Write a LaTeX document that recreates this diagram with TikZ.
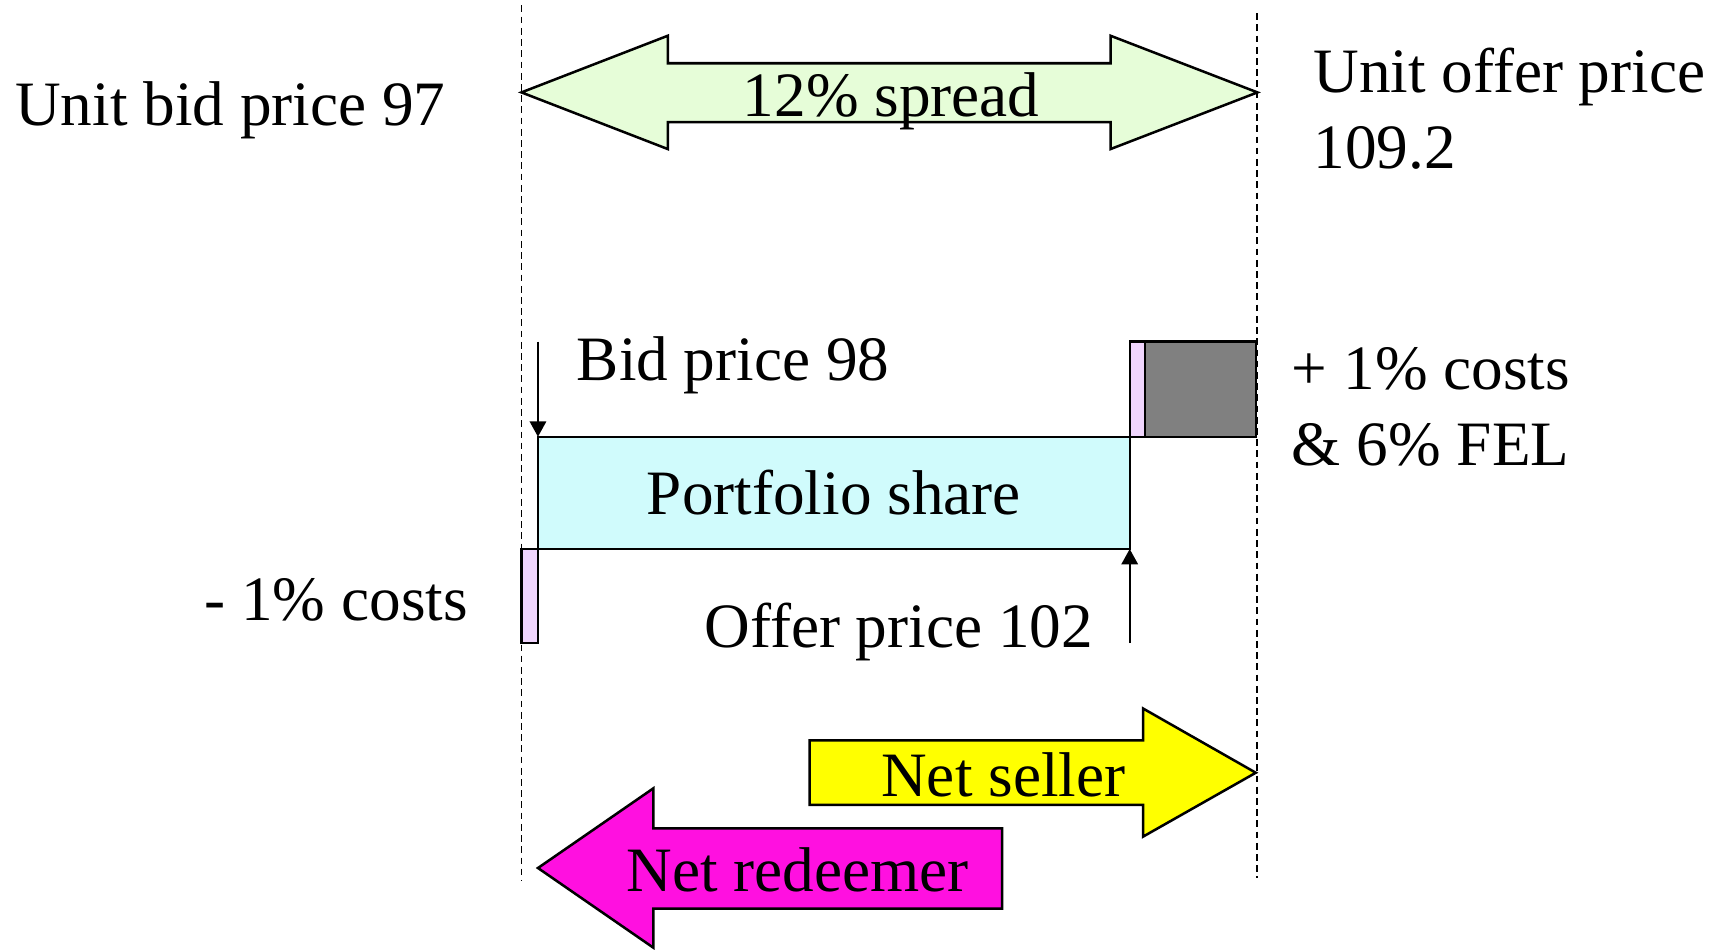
\documentclass[tikz,border=0pt]{standalone}
\usepackage{fontspec}
\setmainfont{Liberation Serif}
\usepackage{tikz}
\usetikzlibrary{arrows.meta, positioning}
\definecolor{spreadcolor}{HTML}{E6FDD8}
\definecolor{portcolor}{HTML}{D0FBFC}
\definecolor{costcolor}{HTML}{F0D5FD}
\definecolor{felcolor}{HTML}{808080}
\definecolor{sellcolor}{HTML}{FFFF00}
\definecolor{redeemcolor}{HTML}{FF10E0}

\tikzset{
  txt/.style={font=\fontsize{32.7pt}{39pt}\selectfont, inner sep=0pt},
  bar/.style={draw, line width=1.2pt, inner sep=0pt, outer sep=0pt, anchor=south west},
  blockarrow/.style={draw, line width=1.3pt, line join=miter},
  guide/.style={line width=1pt, dash pattern=on 3.5pt off 2.3pt},
  pointer/.style={line width=1.1pt, -{Triangle[length=8pt, width=8.5pt]}},
}

\begin{document}
\begin{tikzpicture}[x=0.02cm, y=0.02cm]
    \useasboundingbox (0,0) rectangle (1568,863);

    % bid and offer guide lines
    \draw[guide] (474,858) -- (474,63);
    \draw[guide] (1143,851) -- (1143,65);

    % spread between unit prices
    \draw[blockarrow, fill=spreadcolor] (474,779) -- (607,830.5) -- (607,805.5)
        -- (1009.5,805.5) -- (1009.5,830.5) -- (1143,779) -- (1009.5,727.5)
        -- (1009.5,752) -- (607,752) -- (607,727.5) -- cycle;
    \node[txt, anchor=base] (spread) at (810,757) {12\% spread};

    \node[txt, anchor=base west] (unitbid) at (13.6,749) {Unit bid price 97};
    % base of a two-line node sits on its last line
    \node[txt, anchor=base west, align=left] (unitoffer) at (1193.5,710)
        {Unit offer price\\109.2};

    % portfolio share with the cost bars
    \node[bar, txt, fill=portcolor, minimum width=10.76cm, minimum height=2.04cm]
        (port) at (489,364) {Portfolio share};
    \node[bar, fill=costcolor, minimum width=0.28cm, minimum height=1.73cm]
        (addcost) at (port.north east) {};
    \node[bar, fill=felcolor, minimum width=2.02cm, minimum height=1.73cm]
        (fel) at (addcost.south east) {};
    \node[bar, fill=costcolor, minimum width=0.3cm, minimum height=1.71cm,
          anchor=north east] (lesscost) at (port.south west) {};

    % bid and offer pointers
    \coordinate[above=1.73cm of port.north west] (bidfrom);
    \draw[pointer] (bidfrom) -- (port.north west);
    \node[txt, anchor=base west] (bid) at (524,517.5) {Bid price 98};

    \coordinate[below=1.71cm of port.south east] (offerfrom);
    \draw[pointer] (offerfrom) -- (port.south east);
    \node[txt, anchor=base west] (offer) at (640,274) {Offer price 102};

    \node[txt, anchor=base west, align=left] (costs) at (1174,440)
        {+ 1\% costs\\\& 6\% FEL};
    \node[txt, anchor=base east] (less) at (425.6,299.4) {- 1\% costs};

    % net seller / net redeemer
    \draw[blockarrow, fill=sellcolor] (736,190) -- (1039,190) -- (1039,219)
        -- (1141.5,160.6) -- (1039,102.5) -- (1039,131.3) -- (736,131.3) -- cycle;
    \node[txt, anchor=base] (seller) at (912,139) {Net seller};

    \draw[blockarrow, fill=redeemcolor] (489,74) -- (594,146.5) -- (594,110)
        -- (911,110) -- (911,37) -- (594,37) -- (594,1.5) -- cycle;
    \node[txt, anchor=base] (redeemer) at (725,52.5) {Net redeemer};
\end{tikzpicture}
\end{document}
